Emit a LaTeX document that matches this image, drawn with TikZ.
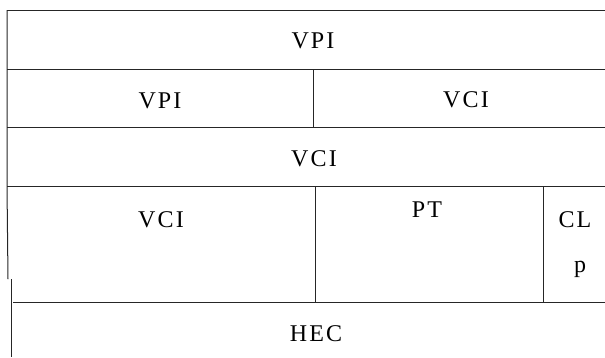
\documentclass[tikz,border=0pt]{standalone}
\usepackage{fontspec}
\setmainfont{Liberation Serif}[LetterSpace=9]
\begin{document}
\begin{tikzpicture}[x=1pt,y=-1pt,
  rule/.style={draw=black!85,line width=1pt},
  field/.style={font=\fontsize{24}{28}\selectfont,inner sep=0pt,text=black}]
\useasboundingbox (0,0) rectangle (605,357);
% grid corners
\coordinate (tl) at (7,10);   \coordinate (tr) at (605,10);
\coordinate (l1) at (7,69);   \coordinate (r1) at (605,69);
\coordinate (l2) at (7,127);  \coordinate (r2) at (605,127);
\coordinate (l3) at (7,186);  \coordinate (r3) at (605,186);
\coordinate (l4) at (13,302); \coordinate (r4) at (605,302);
\coordinate (lb) at (8,279);  \coordinate (lc) at (11,279);
\coordinate (ld) at (11,357);
% horizontal rules
\draw[rule] (tl) -- (tr);
\draw[rule] (l1) -- (r1);
\draw[rule] (l2) -- (r2);
\draw[rule] (l3) -- (r3);
\draw[rule] (l4) -- (r4);
% left edge
\draw[rule] (tl) -- (7,186) -- (lb);
\draw[rule,line width=0.7pt] (lc) -- (ld);
% inner dividers
\coordinate (a1) at (313,69);  \coordinate (a2) at (313,127);
\coordinate (b1) at (315,186); \coordinate (b2) at (315,302);
\coordinate (c1) at (543,186); \coordinate (c2) at (543,302);
\draw[rule] (a1) -- (a2);
\draw[rule] (b1) -- (b2);
\draw[rule] (c1) -- (c2);
% field labels
\node[field] (vpia) at (313,41) {VPI};
\node[field] (vpib) at (160,101) {VPI};
\node[field] (vcia) at (466,100) {VCI};
\node[field] (vcib) at (314,159) {VCI};
\node[field] (vcic) at (161,220) {VCI};
\node[field] (pt)   at (427,210) {PT};
\node[field,anchor=base] (clp) at (575,227) {CL};
\node[field,anchor=base] (clq) at (580,272) {p};
\node[field] (hec)  at (316,334) {HEC};
\end{tikzpicture}
\end{document}
